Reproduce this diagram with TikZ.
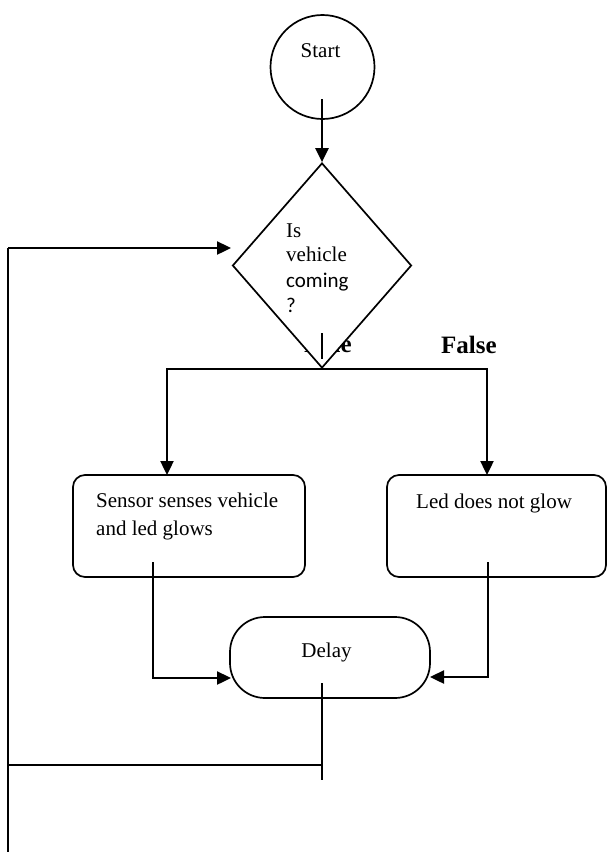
\documentclass[tikz,border=0pt]{standalone}
\usepackage{fontspec}
\setmainfont{Liberation Serif}
\newfontfamily\calib{Carlito}
\usetikzlibrary{shapes.geometric,arrows.meta}
\begin{document}
\begin{tikzpicture}[x=1pt,y=-1pt,
  outl/.style={draw=black,line width=1.7pt},
  conn/.style={line width=2.4pt,-{Triangle[length=14pt,width=13pt]}},
  thinline/.style={line width=1.5pt},
  lbl/.style={font=\fontsize{21}{25}\selectfont,inner sep=0pt},
  bold/.style={font=\bfseries\fontsize{25}{30}\selectfont,inner sep=0pt}
]
\useasboundingbox (0,0) rectangle (607,852);
\fill[white] (0,0) rectangle (607,852);

% start
\node[outl,circle,minimum size=104pt,inner sep=0pt] (start) at (322.5,67) {};
\node[lbl,anchor=base] (starttxt) at (320.5,57) {Start};

% labels under diamond
\node[bold,anchor=base east] (truelbl) at (352,352) {True};
\node[bold,anchor=base west] (falselbl) at (441,353) {False};

% decision
\node[outl,diamond,fill=white,minimum width=179pt,minimum height=205pt,inner sep=0pt] (dec) at (322,265.5) {};
\node[lbl,anchor=base west] (q1) at (286,237) {Is};
\node[lbl,anchor=base west] (q2) at (286,261) {vehicle};
\node[lbl,anchor=base west,font=\calib\fontsize{21}{25}\selectfont] (q3) at (286,287) {coming};
\node[lbl,anchor=base west,font=\calib\fontsize{21}{25}\selectfont] (q4) at (286,312) {?};
\coordinate (stubA) at (322,333);
\coordinate (stubB) at (322,359);
\draw[thinline] (stubA) -- (stubB);

% process boxes
\node[outl,rectangle,rounded corners=12pt,minimum width=232pt,minimum height=102pt] (lbox) at (189,526) {};
\node[lbl,anchor=base west] (l1) at (96,507) {Sensor senses vehicle};
\node[lbl,anchor=base west] (l2) at (96,535) {and led glows};
\node[outl,rectangle,rounded corners=12pt,minimum width=219pt,minimum height=102pt] (rbox) at (496.5,526) {};
\node[lbl,anchor=base west] (r1) at (416,508) {Led does not glow};

% delay
\node[outl,rectangle,rounded corners=35pt,minimum width=200pt,minimum height=81pt] (delay) at (330,657.5) {};
\node[lbl,anchor=base] (dtxt) at (326.5,657) {Delay};

% connectors
\coordinate (s0) at (322,99);
\draw[conn] (s0) -- (dec.north);
\coordinate (la) at (167,475);
\coordinate (ra) at (487,475);
\draw[conn] (dec.south) -| (la);
\draw[conn] (dec.south) -| (ra);

\coordinate (lstub) at (153,562);
\coordinate (din1) at (231,678);
\draw[conn] (lstub) |- (din1);
\coordinate (rstub) at (488,562);
\coordinate (din2) at (430,677);
\draw[conn] (rstub) |- (din2);

\coordinate (dstub) at (322,683);
\coordinate (dend) at (322,780);
\draw[thinline] (dstub) -- (dend);
\coordinate (jn) at (322,765);
\coordinate (lb) at (8,765);
\draw[thinline] (jn) -- (lb);
\coordinate (lbot) at (8,852);
\coordinate (ltop) at (8,248);
\coordinate (ain) at (231,248);
\draw[thinline] (lbot) -- (ltop);
\draw[conn] (ltop) -- (ain);
\end{tikzpicture}
\end{document}
